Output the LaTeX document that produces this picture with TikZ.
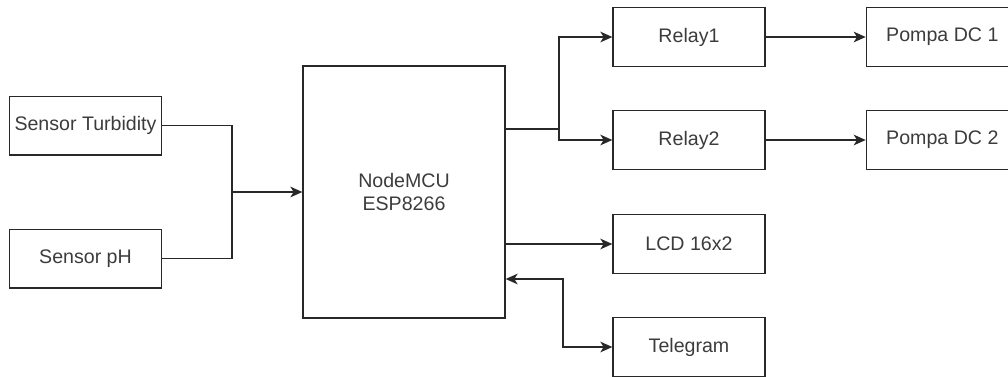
\documentclass[tikz,border=0pt]{standalone}
\usepackage{fontspec}
\setmainfont{Liberation Sans}
\usepackage{tikz}
\usetikzlibrary{positioning,arrows.meta}
\definecolor{linegray}{RGB}{40,40,40}
\definecolor{textgray}{RGB}{60,60,60}

\begin{document}
\begin{tikzpicture}[x=0.75pt, y=-0.75pt,
		box/.style={draw=linegray, line width=1pt, minimum width=114pt,
								minimum height=44pt, inner sep=0pt, align=center,
								font=\fontsize{14.7}{17.5}\selectfont, text=textgray},
		mcubox/.style={box, minimum width=151.5pt, minimum height=189pt},
		arrow/.style={-{Stealth[length=9pt, width=8pt, inset=2.5pt]}, line width=1pt, draw=linegray},
		dblarrow/.style={{Stealth[length=9pt, width=8pt, inset=2.5pt]}-{Stealth[length=9pt, width=8pt, inset=2.5pt]},
								line width=1pt, draw=linegray},
		wire/.style={line width=1pt, draw=linegray},
	]
		\clip (0,0) rectangle (1008,376);
		\useasboundingbox (0,0) rectangle (1008,376);

		% sensor
		\node[box] (turb) at (85.5,125.5) {Sensor Turbidity};
		\node[box] (ph) at (85.5,258.5) {Sensor pH};

		% mikrokontroler
		\node[mcubox] (mcu) at (404,192) {NodeMCU\\ESP8266};

		% output
		\node[box] (relay1) at (689,37) {Relay1};
		\node[box] (relay2) at (689,140) {Relay2};
		\node[box] (lcd) at (689,244) {LCD 16x2};
		\node[box] (tele) at (689,347) {Telegram};
		\node[box, right=100pt*0.75 of relay1] (pompa1) {Pompa DC 1};
		\node[box, right=100pt*0.75 of relay2] (pompa2) {Pompa DC 2};

		% titik cabang
		\coordinate (join) at (232,192);
		\coordinate (split) at (559,129);
		\coordinate (tbend) at (563,279);

		% garis
		\draw[wire] (turb.east) -| (join);
		\draw[wire] (ph.east) -| (join);
		\draw[arrow] (join) -- (mcu.west);
		\draw[wire] (mcu.east |- split) -- (split);
		\draw[arrow] (split) |- (relay1.west);
		\draw[arrow] (split) |- (relay2.west);
		\draw[arrow] (mcu.east |- lcd) -- (lcd.west);
		\draw[dblarrow] (mcu.east |- tbend) -- (tbend) |- (tele.west);
		\draw[arrow] (relay1) -- (pompa1);
		\draw[arrow] (relay2) -- (pompa2);
	\end{tikzpicture}
\end{document}
